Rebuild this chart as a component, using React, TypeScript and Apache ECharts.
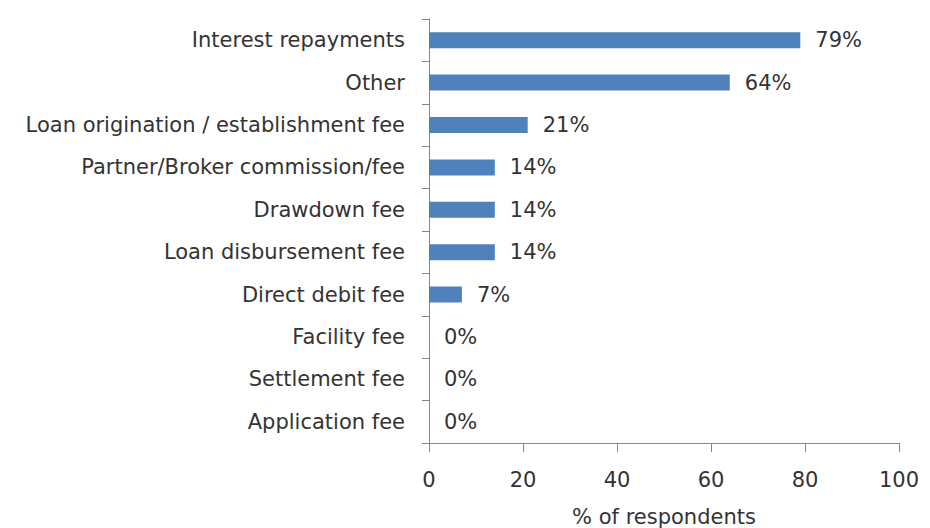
import React, { useEffect, useRef } from "react";
import * as echarts from "echarts";

const categories = [
  "Interest repayments",
  "Other",
  "Loan origination / establishment fee",
  "Partner/Broker commission/fee",
  "Drawdown fee",
  "Loan disbursement fee",
  "Direct debit fee",
  "Facility fee",
  "Settlement fee",
  "Application fee",
];
const values = [79, 64, 21, 14, 14, 14, 7, 0, 0, 0];
const xTicks = { min: 0, max: 100, interval: 20 };
const axisName = "% of respondents";

const FONT = "'DejaVu Sans', sans-serif";
const FS = 21;
const TEXT = "#333333";
const AXIS = "#868686";

export default function App() {
  const ref = useRef<HTMLDivElement>(null);
  useEffect(() => {
    if (!ref.current) return;
    const chart = echarts.init(ref.current, undefined, { renderer: "svg" });
    chart.setOption({
      animation: false,
      grid: {
        left: 429,
        right: 31,
        top: 19,
        bottom: 85,
        containLabel: false,
        outerBoundsMode: "none",
      },
      xAxis: {
        type: "value",
        min: xTicks.min,
        max: xTicks.max,
        interval: xTicks.interval,
        name: axisName,
        nameLocation: "middle",
        nameGap: 63,
        nameTextStyle: { color: TEXT, fontSize: FS, fontFamily: FONT },
        axisLine: { show: true, lineStyle: { color: AXIS, width: 1 } },
        axisTick: { show: true, length: 9, lineStyle: { color: AXIS } },
        axisLabel: { color: TEXT, fontSize: FS, fontFamily: FONT, margin: 26 },
        splitLine: { show: false },
      },
      yAxis: {
        type: "category",
        data: categories,
        inverse: true,
        axisLine: { show: true, lineStyle: { color: AXIS, width: 1 } },
        axisTick: { show: true, length: 7, alignWithLabel: false, lineStyle: { color: AXIS } },
        axisLabel: { color: TEXT, fontSize: FS, fontFamily: FONT, margin: 24 },
      },
      series: [
        {
          type: "bar",
          data: values,
          barWidth: 16,
          itemStyle: { color: "#4F81BD" },
          label: {
            show: true,
            position: "right",
            distance: 15,
            formatter: (p: any) => `${p.value}%`,
            color: TEXT,
            fontSize: FS,
            fontFamily: FONT,
          },
        },
      ],
    });
    return () => chart.dispose();
  }, []);
  return <div ref={ref} style={{ width: 930, height: 528, position: "absolute", left: 0, top: 0 }} />;
}
